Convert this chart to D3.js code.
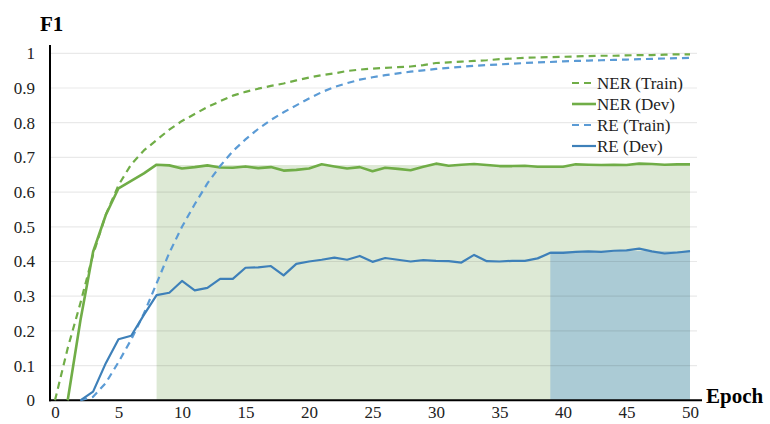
<!DOCTYPE html>
<html>
<head>
<meta charset="utf-8">
<script src="https://cdn.jsdelivr.net/npm/d3@7/dist/d3.min.js"></script>
<style>
  html, body { margin: 0; padding: 0; background: #fff; }
  svg { display: block; }
</style>
</head>
<body>
<svg id="chart" width="770" height="424"></svg>
<script>
// Epochs 0..50
const epochs = d3.range(0, 51);

// F1 per epoch (null = not yet reported)
const nerTrain = [0, 0.15, 0.28, 0.42, 0.535, 0.62, 0.68, 0.72, 0.75, 0.78, 0.805, 0.825, 0.845, 0.862, 0.878, 0.889, 0.898, 0.906, 0.913, 0.922, 0.93, 0.937, 0.942, 0.949, 0.953, 0.956, 0.958, 0.96, 0.962, 0.966, 0.972, 0.974, 0.976, 0.978, 0.98, 0.983, 0.985, 0.987, 0.988, 0.989, 0.99, 0.991, 0.992, 0.993, 0.993, 0.994, 0.995, 0.995, 0.996, 0.997, 0.997];
const nerDev = [null, 0, 0.23, 0.428, 0.534, 0.611, 0.632, 0.654, 0.679, 0.677, 0.668, 0.672, 0.677, 0.671, 0.670, 0.674, 0.669, 0.672, 0.662, 0.664, 0.668, 0.68, 0.674, 0.668, 0.672, 0.66, 0.67, 0.667, 0.663, 0.673, 0.682, 0.676, 0.679, 0.681, 0.678, 0.675, 0.675, 0.676, 0.673, 0.673, 0.673, 0.68, 0.679, 0.678, 0.679, 0.678, 0.682, 0.681, 0.679, 0.68, 0.68];
const reTrain = [null, null, 0, 0.01, 0.05, 0.11, 0.175, 0.25, 0.337, 0.425, 0.5, 0.565, 0.625, 0.675, 0.718, 0.752, 0.782, 0.808, 0.83, 0.85, 0.87, 0.888, 0.903, 0.914, 0.924, 0.931, 0.937, 0.942, 0.947, 0.951, 0.955, 0.958, 0.961, 0.964, 0.966, 0.968, 0.97, 0.972, 0.974, 0.975, 0.977, 0.978, 0.979, 0.98, 0.981, 0.982, 0.983, 0.984, 0.985, 0.986, 0.987];
const reDev = [null, null, 0, 0.025, 0.107, 0.176, 0.186, 0.246, 0.303, 0.31, 0.344, 0.317, 0.324, 0.35, 0.35, 0.382, 0.383, 0.387, 0.36, 0.393, 0.4, 0.405, 0.411, 0.405, 0.416, 0.399, 0.41, 0.405, 0.4, 0.404, 0.402, 0.401, 0.397, 0.419, 0.401, 0.4, 0.402, 0.402, 0.409, 0.425, 0.425, 0.428, 0.429, 0.428, 0.431, 0.432, 0.437, 0.429, 0.423, 0.426, 0.43];

// Plateau bands (NER dev plateau, RE dev plateau)
const bandFrom = [8, 39];
const bandTo = [50, 50];
const bandTop = [0.678, 0.43];
const bandColor = ["#dde9d5", "#abcbd5"];

const seriesNames = ["NER (Train)", "NER (Dev)", "RE (Train)", "RE (Dev)"];
const seriesData = [nerTrain, nerDev, reTrain, reDev];
const seriesColor = ["#70ad47", "#70ad47", "#5b9bd5", "#3e80b9"];
const seriesDash = ["7,5", null, "7,5", null];
const seriesWidth = [2.2, 2.6, 2.2, 2.2];

const yTicks = [0, 0.1, 0.2, 0.3, 0.4, 0.5, 0.6, 0.7, 0.8, 0.9, 1];
const xTicks = [0, 5, 10, 15, 20, 25, 30, 35, 40, 45, 50];

const serif = '"Liberation Serif"';

const svg = d3.select("#chart");
const x = d3.scaleLinear().domain([0, 50]).range([55, 690]);
const y = d3.scaleLinear().domain([0, 1]).range([400.3, 53.3]);

// Shaded plateau bands
svg.append("g").selectAll("rect")
  .data(bandFrom.map((f, i) => ({ f, t: bandTo[i], v: bandTop[i], c: bandColor[i] })))
  .join("rect")
  .attr("x", d => x(d.f))
  .attr("y", d => y(d.v))
  .attr("width", d => x(d.t) - x(d.f))
  .attr("height", d => y(0) - y(d.v))
  .attr("fill", d => d.c);

// Horizontal gridlines
svg.append("g").selectAll("line")
  .data(yTicks.filter(d => d > 0))
  .join("line")
  .attr("x1", 50).attr("x2", 697)
  .attr("y1", d => y(d)).attr("y2", d => y(d))
  .attr("stroke", "rgba(0,0,0,0.085)")
  .attr("stroke-width", 1.2);

// Y axis labels
const yAxis = d3.axisLeft(y).tickValues(yTicks).tickSize(0).tickPadding(15)
  .tickFormat(d => d3.format("")(+d.toFixed(1)));
const gy = svg.append("g").attr("transform", "translate(50,0)").call(yAxis);
gy.select(".domain").remove();
gy.selectAll("text").attr("fill", "#222")
  .style("font-family", serif).style("font-size", "17px");

// X axis labels
const xAxis = d3.axisBottom(x).tickValues(xTicks).tickSize(0).tickPadding(6);
const gx = svg.append("g").attr("transform", "translate(0,400.3)").call(xAxis);
gx.select(".domain").remove();
gx.selectAll("text").attr("fill", "#222")
  .style("font-family", serif).style("font-size", "17px");

// Axis lines
svg.append("line").attr("x1", 50).attr("x2", 50).attr("y1", 45).attr("y2", 401.3)
  .attr("stroke", "#000").attr("stroke-width", 2);
svg.append("line").attr("x1", 49).attr("x2", 702).attr("y1", 400.3).attr("y2", 400.3)
  .attr("stroke", "#000").attr("stroke-width", 2);

// Series lines
const line = d3.line()
  .defined(d => d.v !== null)
  .x(d => x(d.e))
  .y(d => y(d.v));

seriesData.forEach((vals, i) => {
  svg.append("path")
    .datum(epochs.map(e => ({ e, v: vals[e] })))
    .attr("d", line)
    .attr("fill", "none")
    .attr("stroke", seriesColor[i])
    .attr("stroke-width", seriesWidth[i])
    .attr("stroke-linejoin", "round")
    .attr("stroke-dasharray", seriesDash[i]);
});

// Legend
const legend = svg.append("g").attr("transform", "translate(572,0)");
const legendY = [83, 104, 125, 146];
seriesNames.forEach((name, i) => {
  legend.append("line")
    .attr("x1", 0).attr("x2", 24)
    .attr("y1", legendY[i]).attr("y2", legendY[i])
    .attr("stroke", seriesColor[i])
    .attr("stroke-width", seriesWidth[i])
    .attr("stroke-dasharray", seriesDash[i]);
  legend.append("text")
    .attr("x", 25).attr("y", legendY[i]).attr("dy", "0.35em")
    .attr("fill", "#222")
    .style("font-family", serif).style("font-size", "17px")
    .text(name);
});

// Axis titles
svg.append("text").attr("x", 40).attr("y", 31)
  .attr("fill", "#000")
  .style("font-family", serif).style("font-size", "21px").style("font-weight", "bold")
  .text("F1");
svg.append("text").attr("x", 706).attr("y", 403)
  .attr("fill", "#000")
  .style("font-family", serif).style("font-size", "21px").style("font-weight", "bold")
  .text("Epoch");
</script>
</body>
</html>
